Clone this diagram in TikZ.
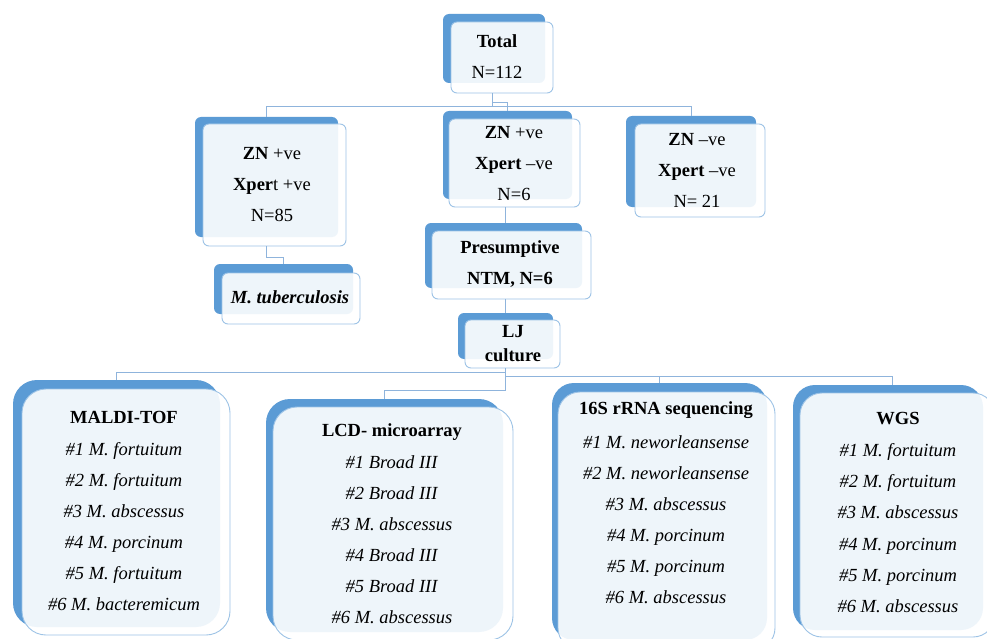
\documentclass[tikz,border=0pt]{standalone}
\usepackage{fontspec}
\setmainfont{Liberation Serif}
\usetikzlibrary{fit}
\definecolor{accent}{HTML}{5B9BD5}
\definecolor{edgeblue}{HTML}{9DC3E6}
\definecolor{connblue}{HTML}{8FB4DC}
\tikzset{
  backbox/.style={fill=accent, draw=none, inner sep=0pt},
  frontbox/.style={fill=white, fill opacity=0.9, draw=edgeblue, line width=0.9pt, inner sep=0pt},
  txt/.style={font=\fontsize{18.5}{31}\selectfont, align=center, inner sep=0pt},
  connector/.style={draw=connblue, line width=1pt},
}
\newcommand\boxpair[4]{%
  \node[backbox, rounded corners=#2, fit={#3}] (#1-b) {};
  \node[frontbox, rounded corners=#2, fit={#4}] (#1-f) {};}
\begin{document}
\begin{tikzpicture}[x=1pt,y=-1pt]
\clip (0,0) rectangle (987,639);
\fill[white] (0,0) rectangle (987,639);
% boxes
\boxpair{total}{6pt}{(443,14)(545,83)}{(451,22)(553,93)}
\boxpair{left}{6pt}{(195,117)(338,237)}{(203,124)(346,246)}
\boxpair{mid}{6pt}{(443,111)(572,199)}{(449,119)(580,207)}
\boxpair{right}{6pt}{(626,116)(756,207)}{(635,124)(765,217)}
\boxpair{tb}{6pt}{(214,264)(353,314)}{(222,273)(360,324)}
\boxpair{pres}{6pt}{(425,223)(582,288)}{(432,231)(591,299)}
\boxpair{lj}{6pt}{(458,313)(553,359)}{(465,320)(560,368)}
\boxpair{maldi}{24pt}{(13,380)(220,627)}{(22,389)(230,635)}
\boxpair{lcd}{24pt}{(266,399)(503,632)}{(273,407)(513,640)}
\boxpair{s16}{22pt}{(552,383)(767,640)}{(558,392)(775,650)}
\boxpair{wgs}{22pt}{(793,385)(983,630)}{(800,393)(995,637)}
% connectors
\draw[connector] ([xshift=-10pt]total-f.south) -- ([xshift=-10pt]total-f.south |- 0,107);
\draw[connector] (left-b.north) -- (left-b.north |- 0,107) -- (right-b.north |- 0,107) -- (right-b.north);
\draw[connector] ([xshift=-10pt]total-f.south |- 0,103) -| (mid-b.north);
\draw[connector] (left-b.north |- left-f.south) -- (left-b.north |- 0,257) -| (tb-b.north);
\draw[connector] ([xshift=-2.5pt]mid-b.north |- mid-f.south) -- ([xshift=-2.5pt]mid-b.north |- pres-b.north);
\draw[connector] (lj-b.north |- pres-f.south) -- (lj-b.north);
\draw[connector] (lj-b.north |- lj-f.south) -- (lj-b.north |- 0,390) -| (lcd-b.north);
\draw[connector] (lj-b.north |- 0,372) -| (maldi-b.north);
\draw[connector] (lj-b.north |- 0,376) -| ([xshift=4pt]wgs-b.north);
\draw[connector] (s16-b.north |- 0,376) -- (s16-b.north);
% texts
\node[txt] (total) at (497,57) {\textbf{Total}\\N=112};
\node[txt] (left) at (272,185) {\textbf{ZN} +ve\\\textbf{Xper}t +ve\\N=85};
\node[txt] (mid) at (514,164) {\textbf{ZN} +ve\\\textbf{Xpert} –ve\\N=6};
\node[txt] (right) at (697,170) {\textbf{ZN} –ve\\\textbf{Xpert} –ve\\N= 21};
\node[txt] (tb) at (290,297.5) {\textbf{\textit{M. tuberculosis}}};
\node[txt] (pres) at (510,264) {\textbf{Presumptive}\\\textbf{NTM, N=6}};
\node[txt, font=\fontsize{18.5}{24}\selectfont] (lj) at (513,344) {\textbf{LJ}\\\textbf{culture}};
\node[txt] (maldi) at (124,511) {\textbf{MALDI-TOF}\\[1pt]
  \textit{\#1 M. fortuitum}\\\textit{\#2 M. fortuitum}\\\textit{\#3 M. abscessus}\\
  \textit{\#4 M. porcinum}\\\textit{\#5 M. fortuitum}\\\textit{\#6 M. bacteremicum}};
\node[txt] (lcd) at (392,523.5) {\textbf{LCD- microarray}\\[1pt]
  \textit{\#1 Broad III}\\\textit{\#2 Broad III}\\\textit{\#3 M. abscessus}\\
  \textit{\#4 Broad III}\\\textit{\#5 Broad III}\\\textit{\#6 M. abscessus}};
\node[txt] (s16) at (666,502.5) {\textbf{16S rRNA sequencing}\\[3pt]
  \textit{\#1 M. neworleansense}\\\textit{\#2 M. neworleansense}\\\textit{\#3 M. abscessus}\\
  \textit{\#4 M. porcinum}\\\textit{\#5 M. porcinum}\\\textit{\#6 M. abscessus}};
\node[txt] (wgs) at (898,512.5) {\textbf{WGS}\\[1pt]
  \textit{\#1 M. fortuitum}\\\textit{\#2 M. fortuitum}\\\textit{\#3 M. abscessus}\\
  \textit{\#4 M. porcinum}\\\textit{\#5 M. porcinum}\\\textit{\#6 M. abscessus}};
\end{tikzpicture}
\end{document}
